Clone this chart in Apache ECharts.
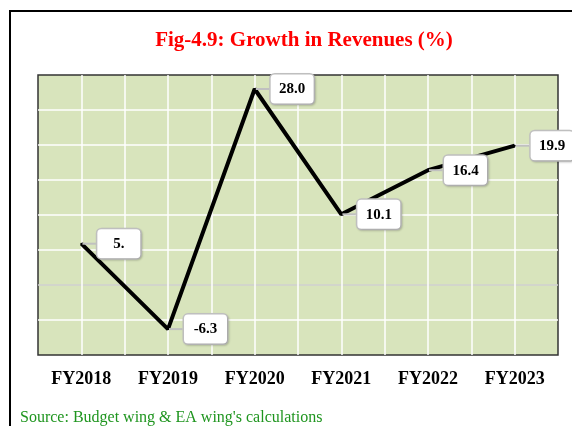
<!DOCTYPE html>
<html>
<head>
<meta charset="utf-8">
<script src="https://cdn.jsdelivr.net/npm/echarts@6/dist/echarts.min.js"></script>
<style>html,body{margin:0;padding:0;background:#fff;}#c{width:572px;height:426px;}</style>
</head>
<body>
<div id="c"></div>
<script>
var categories = ["FY2018", "FY2019", "FY2020", "FY2021", "FY2022", "FY2023"];
var growth = [5.9, -6.3, 28.0, 10.1, 16.4, 19.9];
var pointLabels = ["5.", "-6.3", "28.0", "10.1", "16.4", "19.9"];
var titleText = "Fig-4.9: Growth in Revenues (%)";
var sourceText = "Source: Budget wing & EA wing's calculations";

var serif = '"Liberation Serif", "Times New Roman", serif';
var T = 'rgba(0,0,0,0)';
var W = '#ffffff';
var chart = echarts.init(document.getElementById('c'), null, {renderer: 'canvas'});
chart.setOption({
  animation: false,
  backgroundColor: '#fff',
  title: {
    text: titleText, left: 299, top: 25, textAlign: 'center',
    textStyle: {color: '#ff0000', fontFamily: serif, fontWeight: 'bold', fontSize: 21}
  },
  graphic: [
    {type: 'rect', shape: {x: 10, y: 11, width: 700, height: 500}, style: {fill: 'none', stroke: '#000', lineWidth: 2}, z: 100},
    {type: 'text', left: 20, top: 410, style: {text: sourceText, fill: '#1f951f', font: '16px ' + serif}}
  ],
  grid: {left: 38, right: 14, top: 75, bottom: 71, show: true, backgroundColor: '#d8e4bc', borderColor: '#333', borderWidth: 1.5},
  xAxis: [
    {type: 'category', data: categories, boundaryGap: true,
     axisLine: {show: false}, axisTick: {show: false}, splitLine: {show: false},
     axisLabel: {color: '#000', fontFamily: serif, fontWeight: 'bold', fontSize: 18, margin: 15}},
    {type: 'value', min: 0, max: 12, interval: 1, position: 'top',
     axisLine: {show: false}, axisTick: {show: false}, axisLabel: {show: false},
     splitLine: {show: true, lineStyle: {color: [T, W, W, W, W, W, W, W, W, W, W, W, T], width: 1.5}}}
  ],
  yAxis: {
    type: 'value', min: -10, max: 30, interval: 5,
    axisLine: {show: false}, axisTick: {show: false}, axisLabel: {show: false},
    splitLine: {show: true, lineStyle: {color: [T, W, '#d0d0d0', W, W, W, W, W, T], width: 1.5}}
  },
  series: [{
    type: 'line', xAxisIndex: 0, data: growth,
    symbol: 'circle', symbolSize: 2, showSymbol: true, itemStyle: {color: '#000'},
    lineStyle: {color: '#000', width: 4}, z: 5,
    label: {
      show: true, position: 'right', distance: 15,
      formatter: function (p) { return '{v|' + pointLabels[p.dataIndex] + '}'; },
      rich: {v: {width: 27, align: 'center', color: '#000', fontFamily: serif, fontWeight: 'bold', fontSize: 15, lineHeight: 16}},
      color: '#000', fontFamily: serif, fontWeight: 'bold', fontSize: 15, lineHeight: 16,
      backgroundColor: '#fff', borderColor: '#c0c0c0', borderWidth: 1.5, borderRadius: 4,
      padding: [7, 8, 6, 8], shadowColor: 'rgba(0,0,0,0.15)', shadowBlur: 2, shadowOffsetX: 1, shadowOffsetY: 1
    },
    labelLine: {show: true, lineStyle: {color: '#c0c0c0', width: 2}},
    labelLayout: {hideOverlap: false}
  }]
});
</script>
</body>
</html>
